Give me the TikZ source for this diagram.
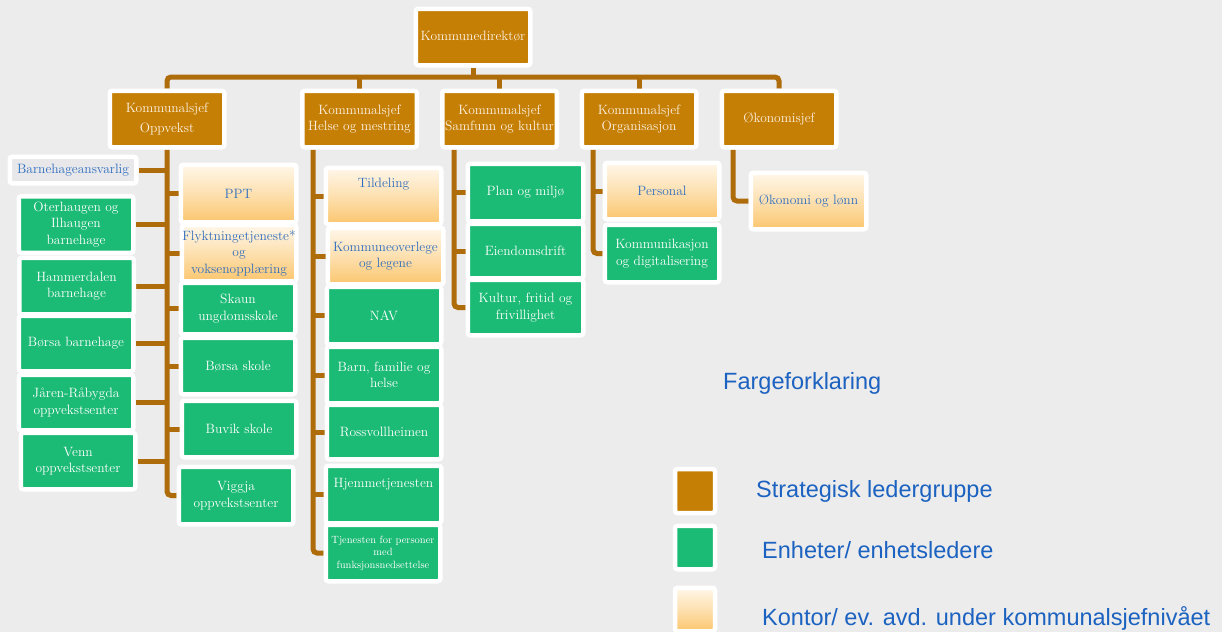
\documentclass[tikz,border=0pt]{standalone}
\usepackage{fontspec}
\newfontfamily\legfont{Liberation Sans}
\usetikzlibrary{calc}
\definecolor{bgc}{RGB}{236,236,236}
\definecolor{orng}{RGB}{198,127,5}
\definecolor{connc}{RGB}{174,108,10}
\definecolor{grn}{RGB}{27,186,117}
\definecolor{gtop}{RGB}{255,247,234}
\definecolor{gmid}{RGB}{253,224,176}
\definecolor{gbot}{RGB}{251,198,110}
\definecolor{bluet}{RGB}{46,109,190}
\definecolor{legblue}{RGB}{28,98,192}
\definecolor{cream}{RGB}{252,242,228}
\definecolor{lgray}{RGB}{232,232,234}
\pgfdeclarelayer{back}
\pgfdeclarelayer{bg}
\pgfsetlayers{back,bg,main}
\newcommand{\bxfont}{\fontsize{13.5}{16.5}\selectfont}
\newcommand{\smfont}{\fontsize{10.5}{12.5}\selectfont}
\begin{document}
\begin{tikzpicture}[x=1pt,y=-1pt,
  base/.style={draw=white, line width=4.5pt, rounded corners=2.5pt, inner sep=1pt,
    align=center, font=\bxfont, minimum width=114.5pt, minimum height=56.5pt},
  obox/.style={base, fill=orng, text=cream},
  gbox/.style={base, fill=grn, text=white},
  fbox/.style={base, top color=gtop, bottom color=gbot, middle color=gmid, text=bluet},
  conn/.style={draw=connc, line width=5pt},
  legtxt/.style={font=\legfont\fontsize{23.5}{28}\selectfont, text=legblue, anchor=west, inner sep=0pt}
]
\useasboundingbox (0,0) rectangle (1222,632);
\begin{pgfonlayer}{back}
\fill[bgc] (0,0) rectangle (1222,632);
\end{pgfonlayer}

% top
\node[obox] (dir) at (473,37) {Kommunedirektør};
% level 2
\node[obox] (opp) at (167,119) {Kommunalsjef\\[4pt]Oppvekst};
\node[obox] (hel) at (359.5,119) {Kommunalsjef\\Helse og mestring};
\node[obox] (sam) at (499.5,119) {Kommunalsjef\\\makebox[100pt]{Samfunn og kultur}};
\node[obox] (org) at (639,119) {Kommunalsjef\\Organisasjon};
\node[obox] (oko) at (779,119) {Økonomisjef};

% Oppvekst
\node[base, fill=lgray, text=bluet, minimum width=126.5pt, minimum height=26.5pt] (bha) at (73,170) {Barnehageansvarlig};
\node[gbox] (b1) at (76,224.5) {Oterhaugen og\\Ilhaugen\\barnehage};
\node[gbox] (b2) at (76.5,286) {Hammerdalen\\barnehage};
\node[gbox, minimum height=55.5pt] (b3) at (76,343.5) {Børsa barnehage};
\node[gbox, minimum height=55.5pt] (b4) at (76,402.5) {Jåren-Råbygda\\oppvekstsenter};
\node[gbox] (b5) at (78,461) {Venn\\oppvekstsenter};
\node[fbox, minimum width=115.5pt, minimum height=57.5pt] (ppt) at (238.5,193.5) {PPT};
\node[fbox] (fly) at (239,253) {\makebox[100pt]{Flyktningetjeneste*}\\og\\voksenopplæring};
\node[gbox, minimum height=51.5pt] (sku) at (238,308.5) {Skaun\\ungdomsskole};
\node[gbox] (bsk) at (238,366) {Børsa skole};
\node[gbox] (buv) at (239,429) {Buvik skole};
\node[gbox, minimum height=57.5pt] (vig) at (236,495.5) {Viggja\\oppvekstsenter};

% Helse
\node[fbox, minimum width=115.5pt, label={[text=bluet, font=\bxfont, yshift=12pt]center:Tildeling}] (til) at (383.5,196) {};
\node[fbox, minimum width=115.5pt] (kol) at (385.5,256) {Kommuneoverlege\\og legene};
\node[gbox, minimum height=57.5pt] (nav) at (384,315.5) {NAV};
\node[gbox] (bfh) at (384,375) {Barn, familie og\\helse};
\node[gbox, minimum height=54.5pt] (ros) at (384,432) {Rossvollheimen};
\node[gbox, minimum width=115.5pt, minimum height=57.5pt, label={[text=white, font=\bxfont, yshift=10.5pt]center:Hjemmetjenesten}] (hje) at (383.5,494.5) {};
\node[gbox, font=\smfont] (tje) at (383,553) {Tjenesten for personer\\med\\funksjonsnedsettelse};

% Samfunn
\node[gbox, minimum width=115.5pt, minimum height=57.5pt] (pla) at (525.5,192.5) {Plan og miljø};
\node[gbox, minimum width=115.5pt, minimum height=54.5pt] (eie) at (525.5,251) {Eiendomsdrift};
\node[gbox, minimum width=115.5pt, minimum height=55.5pt] (kul) at (525.5,307.5) {Kultur, fritid og\\frivillighet};

% Organisasjon
\node[fbox] (per) at (662,191) {Personal};
\node[gbox, minimum height=57.5pt] (kom) at (662,253.5) {Kommunikasjon\\og digitalisering};

% Okonomi
\node[fbox, minimum width=115.5pt] (okl) at (808.5,201) {Økonomi og lønn};

% connectors
\coordinate (busy) at (0,77);
\coordinate (hx) at (313,0);
\coordinate (sx) at (454,0);
\coordinate (ox) at (593,0);
\coordinate (kx) at (733,0);
\begin{pgfonlayer}{bg}
\draw[conn] (dir.south) -- (dir.south |- busy);
\draw[conn, rounded corners=4pt] (opp.north) -- (opp.north |- busy) -- (oko.north |- busy) -- (oko.north);
\foreach \n in {hel,sam,org} \draw[conn] (\n.north) -- (\n.north |- busy);
% Oppvekst tree
\draw[conn, rounded corners=4pt] (opp.south) |- (vig.west);
\foreach \n in {bha,b1,b2,b3,b4,b5} \draw[conn] (\n.east) -- (\n.east -| opp.south);
\foreach \n in {ppt,fly,sku,bsk,buv} \draw[conn] (\n.west) -- (\n.west -| opp.south);
% Helse tree
\draw[conn, rounded corners=4pt] (hel.south -| hx) |- (tje.west);
\foreach \n in {til,kol,nav,bfh,ros,hje} \draw[conn] (\n.west) -- (\n.west -| hx);
% Samfunn tree
\draw[conn, rounded corners=4pt] (sam.south -| sx) |- (kul.west);
\foreach \n in {pla,eie} \draw[conn] (\n.west) -- (\n.west -| sx);
% Organisasjon tree
\draw[conn, rounded corners=4pt] (org.south -| ox) |- (kom.west);
\draw[conn] (per.west) -- (per.west -| ox);
% Okonomi tree
\draw[conn, rounded corners=4pt] (oko.south -| kx) |- (okl.west);
\end{pgfonlayer}

% legend
\node[legtxt] (lt0) at (723,383) {Fargeforklaring};
\node[base, fill=orng, minimum width=40pt, minimum height=44pt] (l1) at (695,491) {};
\node[base, fill=grn, minimum width=40pt, minimum height=43.5pt] (l2) at (695,547.5) {};
\node[base, top color=gtop, bottom color=gbot, middle color=gmid, minimum width=40pt, minimum height=43.5pt] (l3) at (695,609.5) {};
\node[legtxt] (lt1) at (756,491) {Strategisk ledergruppe};
\node[legtxt] (lt2) at (762,550) {Enheter/ enhetsledere};
\node[legtxt] (lt3) at (762,618) {Kontor/ ev. avd. under kommunalsjefnivået};
\end{tikzpicture}
\end{document}
